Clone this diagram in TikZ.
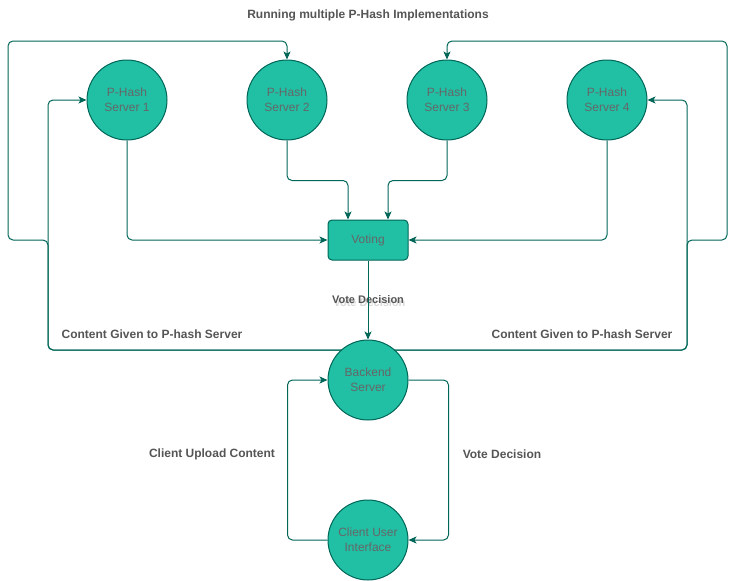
\documentclass[tikz,border=0pt]{standalone}
\usepackage{fontspec}
\setmainfont{Liberation Sans}
\usetikzlibrary{arrows.meta,backgrounds}
\definecolor{tealfill}{HTML}{21C0A5}
\definecolor{tealline}{HTML}{006658}
\definecolor{nodetext}{HTML}{666666}
\definecolor{labeltext}{HTML}{555555}
\tikzset{
  srv/.style={circle,draw=tealline,fill=tealfill,line width=1pt,minimum size=80pt,inner sep=0pt,
    text=nodetext,align=center,font=\fontsize{12}{15}\selectfont},
  votebox/.style={rectangle,rounded corners=4pt,draw=tealline,fill=tealfill,line width=1pt,
    minimum width=80pt,minimum height=40pt,inner sep=0pt,text=nodetext,font=\fontsize{12}{15}\selectfont},
  edge/.style={draw=tealline,line width=1pt,rounded corners=5pt,
    -{Stealth[length=8pt,width=7pt,inset=2pt]}},
  lbl/.style={text=labeltext,font=\bfseries\fontsize{12}{15}\selectfont,inner sep=0pt},
  smalllbl/.style={text=labeltext,font=\bfseries\fontsize{11}{13}\selectfont,inner sep=0pt},
}
\begin{document}
\begin{tikzpicture}[x=1pt,y=-1pt]
\useasboundingbox (0,0) rectangle (737,581);
% nodes
\node[srv] (s1) at (127,100) {P-Hash\\Server 1};
\node[srv] (s2) at (287,100) {P-Hash\\Server 2};
\node[srv] (s3) at (447,100) {P-Hash\\Server 3};
\node[srv] (s4) at (607,100) {P-Hash\\Server 4};
\node[votebox] (vote) at (368,240) {Voting};
\node[srv] (back) at (368,380) {Backend\\Server};
\node[srv] (ui) at (368,540) {Client User\\Interface};
% labels
\node[lbl] (title) at (368,15) {Running multiple P-Hash Implementations};
\node[lbl] (cgl) at (152,334) {Content Given to P-hash Server};
\node[lbl] (cgr) at (582,334) {Content Given to P-hash Server};
\node[lbl] (cul) at (212,454) {Client Upload Content};
\node[lbl] (vdr) at (502,454) {Vote Decision};
\begin{scope}[on background layer]
  % shadowed label
  \node[smalllbl,text=black,opacity=0.15] (vds) at (369.5,302.5) {Vote Decision};
  \node[smalllbl] (vdm) at (368,300) {Vote Decision};
  % edges into voting
  \draw[edge] (s1.south) |- (vote.west);
  \draw[edge] (s2.south) -- ++(0,40) -| ([xshift=-20pt]vote.north);
  \draw[edge] (s3.south) -- ++(0,40) -| ([xshift=20pt]vote.north);
  \draw[edge] (s4.south) |- (vote.east);
  \draw[edge] (vote.south) -- (back.north);
  % content distribution loops
  \coordinate (bk) at ([yshift=30pt]back.center);
  \draw[edge] (bk) -| (48,100) -- (s1.west);
  \draw[edge] (bk) -| (48,240) -| (8,41) -| (s2.north);
  \draw[edge] (bk) -| (687,100) -- (s4.east);
  \draw[edge] (bk) -| (687,240) -| (727,41) -| (s3.north);
  % client loop
  \draw[edge] (ui.west) -- ++(-40,0) |- (back.west);
  \draw[edge] (back.east) -- ++(40,0) |- (ui.east);
\end{scope}
\end{tikzpicture}
\end{document}
